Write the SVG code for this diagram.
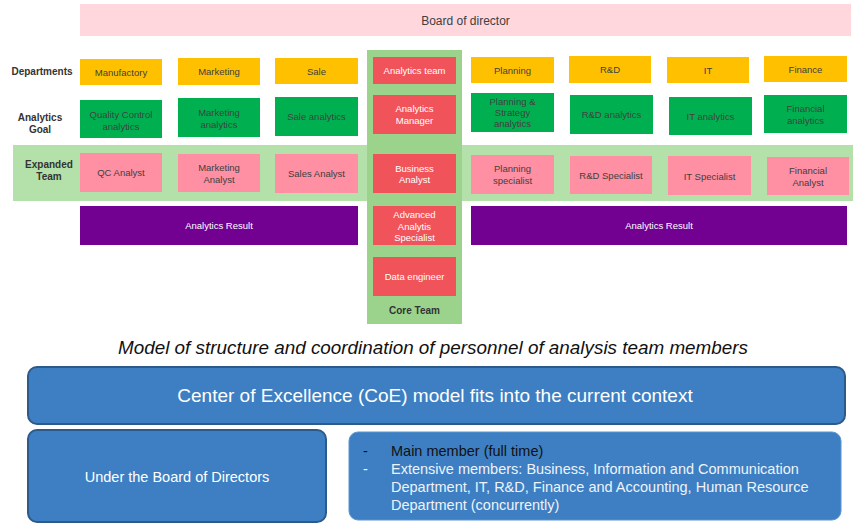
<svg xmlns="http://www.w3.org/2000/svg" width="863" height="528" viewBox="0 0 863 528">
<style>
text{font-family:"Liberation Sans",Arial,sans-serif;}
.n{font-size:9.5px;fill:#404040;text-anchor:middle;}
.w{font-size:9.5px;fill:#ffffff;text-anchor:middle;}
.lbl{font-size:10px;font-weight:bold;fill:#333333;text-anchor:middle;}
.dep{fill:#ffc000;}
.goal{fill:#00b050;}
.exp{fill:#ff8fa3;}
.core{fill:#f0545a;}
.res{fill:#720091;}
.blue{fill:#3d7fc2;stroke:#2c5a8a;stroke-width:2;}
</style>
<rect x="0" y="0" width="863" height="528" fill="#ffffff"/>
<g id="board"><rect x="80" y="4" width="771" height="32" fill="#ffd7dc"/><text x="465.5" y="25" style="font-size:12px;fill:#404040;text-anchor:middle">Board of director</text></g>
<g id="band"><rect x="13" y="145" width="840" height="56" fill="#b4e1a9"/></g>
<g id="core-column"><rect x="367" y="50" width="95" height="274" fill="#9bd38c"/><text class="lbl" x="414.5" y="314">Core Team</text></g>
<g id="labels">
<text class="lbl" x="42" y="75">Departments</text>
<text class="lbl" x="40" y="121">Analytics</text><text class="lbl" x="40" y="133">Goal</text>
<text class="lbl" x="49" y="168">Expanded</text><text class="lbl" x="49" y="180">Team</text>
</g>
<g id="dep-manufactory"><rect class="dep" x="80" y="59" width="82" height="26"/><text class="n" x="121" y="75.5">Manufactory</text></g>
<g id="dep-marketing"><rect class="dep" x="178" y="58" width="82" height="27"/><text class="n" x="219" y="75">Marketing</text></g>
<g id="dep-sale"><rect class="dep" x="275" y="58" width="83" height="26"/><text class="n" x="316.5" y="74.5">Sale</text></g>
<g id="dep-planning"><rect class="dep" x="471" y="57" width="83" height="26"/><text class="n" x="512.5" y="74">Planning</text></g>
<g id="dep-rd"><rect class="dep" x="569" y="56" width="82" height="27"/><text class="n" x="610" y="73">R&amp;D</text></g>
<g id="dep-it"><rect class="dep" x="667" y="57" width="82" height="26"/><text class="n" x="708" y="73.5">IT</text></g>
<g id="dep-finance"><rect class="dep" x="764" y="56" width="83" height="26"/><text class="n" x="805.5" y="72.5">Finance</text></g>
<g id="goal-qc"><rect class="goal" x="80" y="100" width="82" height="38"/><text class="n" x="121" y="118">Quality Control</text><text class="n" x="121" y="129.5">analytics</text></g>
<g id="goal-marketing"><rect class="goal" x="178" y="98" width="82" height="39"/><text class="n" x="219" y="116">Marketing</text><text class="n" x="219" y="127.5">analytics</text></g>
<g id="goal-sale"><rect class="goal" x="275" y="97" width="83" height="39"/><text class="n" x="316.5" y="120">Sale analytics</text></g>
<g id="goal-planning"><rect class="goal" x="471" y="93" width="83" height="39"/><text class="n" x="512.5" y="105">Planning &amp;</text><text class="n" x="512.5" y="116">Strategy</text><text class="n" x="512.5" y="127">analytics</text></g>
<g id="goal-rd"><rect class="goal" x="570" y="95" width="83" height="39"/><text class="n" x="611.5" y="118">R&amp;D analytics</text></g>
<g id="goal-it"><rect class="goal" x="669" y="97" width="83" height="38"/><text class="n" x="710.5" y="120">IT analytics</text></g>
<g id="goal-finance"><rect class="goal" x="764" y="95" width="83" height="38"/><text class="n" x="805.5" y="112">Financial</text><text class="n" x="805.5" y="123.5">analytics</text></g>
<g id="core-team"><rect class="core" x="373" y="57" width="83" height="27"/><text class="w" x="414.5" y="74">Analytics team</text></g>
<g id="core-manager"><rect class="core" x="373" y="95" width="83" height="39"/><text class="w" x="414.5" y="112">Analytics</text><text class="w" x="414.5" y="123.5">Manager</text></g>
<g id="core-ba"><rect class="core" x="373" y="154" width="83" height="39"/><text class="w" x="414.5" y="171.5">Business</text><text class="w" x="414.5" y="183">Analyst</text></g>
<g id="core-aas"><rect class="core" x="373" y="206" width="83" height="39"/><text class="w" x="414.5" y="218">Advanced</text><text class="w" x="414.5" y="229.5">Analytis</text><text class="w" x="414.5" y="241">Specialist</text></g>
<g id="core-de"><rect class="core" x="373" y="257" width="83" height="39"/><text class="w" x="414.5" y="280">Data engineer</text></g>
<g id="exp-qc"><rect class="exp" x="80" y="153" width="82" height="39"/><text class="n" x="121" y="176">QC Analyst</text></g>
<g id="exp-marketing"><rect class="exp" x="178" y="154" width="82" height="38"/><text class="n" x="219" y="171">Marketing</text><text class="n" x="219" y="182.5">Analyst</text></g>
<g id="exp-sales"><rect class="exp" x="275" y="154" width="83" height="39"/><text class="n" x="316.5" y="177">Sales Analyst</text></g>
<g id="exp-planning"><rect class="exp" x="471" y="155" width="83" height="39"/><text class="n" x="512.5" y="172">Planning</text><text class="n" x="512.5" y="183.5">specialist</text></g>
<g id="exp-rd"><rect class="exp" x="570" y="156" width="82" height="38"/><text class="n" x="611" y="178.5">R&amp;D Specialist</text></g>
<g id="exp-it"><rect class="exp" x="668" y="156" width="83" height="39"/><text class="n" x="709.5" y="179.5">IT Specialist</text></g>
<g id="exp-finance"><rect class="exp" x="767" y="157" width="82" height="38"/><text class="n" x="808" y="174">Financial</text><text class="n" x="808" y="185.5">Analyst</text></g>
<g id="result-left"><rect class="res" x="80" y="206" width="278" height="39"/><text class="w" x="219" y="229">Analytics Result</text></g>
<g id="result-right"><rect class="res" x="471" y="206" width="376" height="39"/><text class="w" x="659" y="229">Analytics Result</text></g>
<g id="connectors"/>
<g id="caption"><text x="433" y="354" textLength="630" lengthAdjust="spacingAndGlyphs" style="font-size:19px;font-style:italic;fill:#111111;text-anchor:middle">Model of structure and coordination of personnel of analysis team members</text></g>
<g id="coe"><rect class="blue" x="28" y="367" width="817" height="57" rx="9"/><text x="435" y="402" style="font-size:19px;fill:#ffffff;text-anchor:middle">Center of Excellence (CoE) model fits into the current context</text></g>
<g id="under-board"><rect class="blue" x="28" y="430" width="298" height="92" rx="9"/><text x="177" y="482" style="font-size:14.5px;fill:#ffffff;text-anchor:middle">Under the Board of Directors</text></g>
<g id="members"><rect x="349" y="432" width="492" height="88" rx="9" fill="#3d7fc2" stroke="#5b95d0" stroke-width="1"/>
<text x="363" y="456" style="font-size:14.5px;fill:#111111">-</text>
<text x="391" y="456" style="font-size:14.5px;fill:#111111">Main member (full time)</text>
<text x="363" y="474" style="font-size:14.5px;fill:#eef3fa">-</text>
<text x="391" y="474" style="font-size:14.5px;fill:#eef3fa">Extensive members: Business, Information and Communication</text>
<text x="391" y="492" style="font-size:14.5px;fill:#eef3fa">Department, IT, R&amp;D, Finance and Accounting, Human Resource</text>
<text x="391" y="510" style="font-size:14.5px;fill:#eef3fa">Department (concurrently)</text>
</g>
</svg>
